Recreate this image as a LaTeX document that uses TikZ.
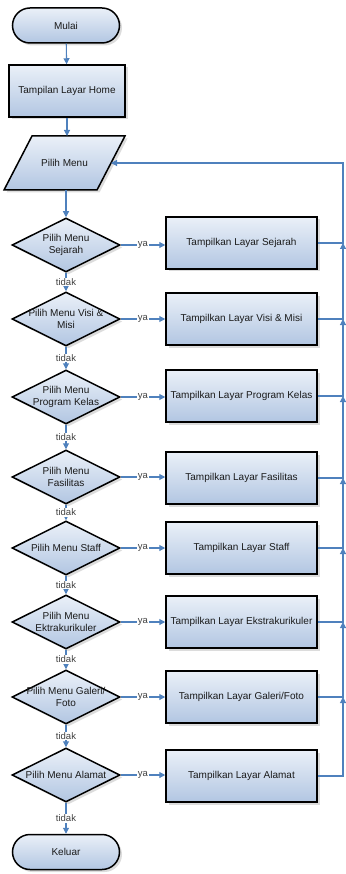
\documentclass[tikz,border=0pt]{standalone}
\usepackage{fontspec}
\setmainfont{Liberation Sans}
\usetikzlibrary{shapes.geometric,shapes.misc,arrows.meta,shadows}
\definecolor{conn}{HTML}{4F81BD}
\definecolor{ftop}{HTML}{EAF0F8}
\definecolor{fbot}{HTML}{B2C6E2}
\definecolor{txt}{HTML}{1A1A1A}
\begin{document}
\begin{tikzpicture}[x=1pt,y=-1pt,
  look/.style={draw=black, line width=1.5pt, top color=ftop, bottom color=fbot,
    drop shadow={shadow xshift=2.5pt, shadow yshift=-2.5pt, fill=black!30, opacity=0.45}},
  base/.style={look, font=\fontsize{10}{11.5}\selectfont, text=txt, align=center, inner sep=0pt},
  procbox/.style={base, rectangle, minimum width=151pt, minimum height=52pt},
  homebox/.style={base, rectangle, minimum width=116pt, minimum height=52pt},
  termbox/.style={base, rounded rectangle, minimum width=107pt, minimum height=35pt},
  decbox/.style={base, diamond, minimum width=108pt, minimum height=54pt},
  dtext/.style={font=\fontsize{10}{11.5}\selectfont, text=txt, align=center, inner sep=0pt},
  flow/.style={draw=conn, line width=1.1pt, -{Triangle[length=6pt,width=6pt]}},
  lbl/.style={fill=white, inner sep=1pt, font=\fontsize{9.5}{10}\selectfont, text=black!75}
]
\useasboundingbox (0,0) rectangle (345,874);

\node[termbox] (start) at (66,25.5) {Mulai};
\node[homebox] (home) at (67,91) {Tampilan Layar Home};

% input/output parallelogram
\path[look] (4,190) -- (32,136) -- (125,136) -- (97,190) -- cycle;
\node[dtext] (pm) at (64.5,163) {Pilih Menu};
\coordinate (pmT) at (67,136);
\coordinate (pmB) at (66,190);
\coordinate (pmR) at (111,163);

% decisions
\node[decbox] (d1) at (66,245) {};
\node[dtext] at (d1) {Pilih Menu\\Sejarah};
\node[decbox] (d2) at (66,319) {};
\node[dtext] at (d2) {Pilih Menu Visi \&\\Misi};
\node[decbox] (d3) at (66,397) {};
\node[dtext] at (d3) {Pilih Menu\\Program Kelas};
\node[decbox] (d4) at (66,477) {};
\node[dtext] at (d4) {Pilih Menu\\Fasilitas};
\node[decbox] (d5) at (66,548) {};
\node[dtext] at (d5) {Pilih Menu Staff};
\node[decbox] (d6) at (66,622) {};
\node[dtext] at (d6) {Pilih Menu\\Ektrakurikuler};
\node[decbox] (d7) at (66,697) {};
\node[dtext] at (d7) {Pilih Menu Galeri/\\Foto};
\node[decbox] (d8) at (66,775) {};
\node[dtext] at (d8) {Pilih Menu Alamat};

\node[termbox] (end) at (66,852) {Keluar};

% process boxes
\node[procbox] (b1) at (241.5,243) {Tampilkan Layar Sejarah};
\node[procbox] (b2) at (241.5,319) {Tampilkan Layar Visi \& Misi};
\node[procbox] (b3) at (241.5,396) {Tampilkan Layar Program Kelas};
\node[procbox] (b4) at (241.5,478) {Tampilkan Layar Fasilitas};
\node[procbox] (b5) at (241.5,548) {Tampilkan Layar Staff};
\node[procbox] (b6) at (241.5,622) {Tampilkan Layar Ekstrakurikuler};
\node[procbox] (b7) at (241.5,697) {Tampilkan Layar Galeri/Foto};
\node[procbox] (b8) at (241.5,776) {Tampilkan Layar Alamat};

% bus coordinates
\coordinate (top) at (343,163);
\coordinate (j1) at (343,243);
\coordinate (j2) at (343,319);
\coordinate (j3) at (343,396);
\coordinate (j4) at (343,478);
\coordinate (j5) at (343,548);
\coordinate (j6) at (343,622);
\coordinate (j7) at (343,697);

% main flow
\draw[flow] (start) -- (home);
\draw[flow] (home.south) -- (pmT);
\draw[flow] (pmB) -- (d1.north);

% no-branches
\draw[flow] (d1.south) -- node[lbl]{tidak} (d2.north);
\draw[flow] (d2.south) -- node[lbl]{tidak} (d3.north);
\draw[flow] (d3.south) -- node[lbl]{tidak} (d4.north);
\draw[flow] (d4.south) -- node[lbl]{tidak} (d5.north);
\draw[flow] (d5.south) -- node[lbl]{tidak} (d6.north);
\draw[flow] (d6.south) -- node[lbl]{tidak} (d7.north);
\draw[flow] (d7.south) -- node[lbl]{tidak} (d8.north);
\draw[flow] (d8.south) -- node[lbl]{tidak} (end.north);

% yes-branches
\draw[flow] (d1.east) -- node[lbl]{ya} (d1.east -| b1.west);
\draw[flow] (d2.east) -- node[lbl]{ya} (b2.west);
\draw[flow] (d3.east) -- node[lbl]{ya} (d3.east -| b3.west);
\draw[flow] (d4.east) -- node[lbl]{ya} (d4.east -| b4.west);
\draw[flow] (d5.east) -- node[lbl]{ya} (b5.west);
\draw[flow] (d6.east) -- node[lbl]{ya} (b6.west);
\draw[flow] (d7.east) -- node[lbl]{ya} (b7.west);
\draw[flow] (d8.east) -- node[lbl]{ya} (d8.east -| b8.west);

% return bus
\draw[flow] (b1.east) -| (top) -- (pmR);
\draw[flow] (b2.east) -| (j1);
\draw[flow] (b3.east) -| (j2);
\draw[flow] (b4.east) -| (j3);
\draw[flow] (b5.east) -| (j4);
\draw[flow] (b6.east) -| (j5);
\draw[flow] (b7.east) -| (j6);
\draw[flow] (b8.east) -| (j7);
\end{tikzpicture}
\end{document}
